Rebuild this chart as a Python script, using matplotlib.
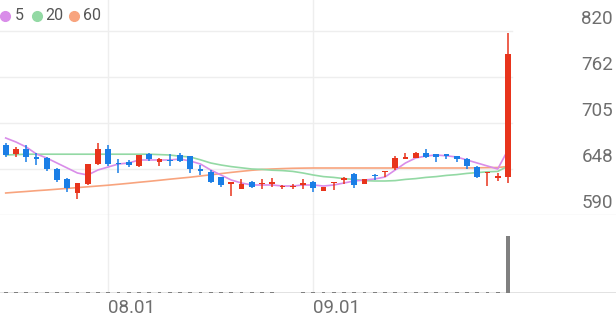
import numpy as np
import matplotlib
matplotlib.use("Agg")
import matplotlib.pyplot as plt
from matplotlib.transforms import blended_transform_factory

plt.rcParams['font.family'] = ['Roboto', 'DejaVu Sans']

# 일봉 데이터 (7/18 ~ 9/26)
opens = [677.5, 666, 672.5, 662.5, 661, 647.5, 635, 617.5, 628.75, 653.75,
         672.5, 655, 656, 651.25, 666, 656, 658.75, 665, 663.75, 647.5,
         643.75, 637.5, 628.75, 622.5, 631.25, 628.75, 628.75, 624.4, 624.4, 628.1,
         631.25, 620, 630, 633.75, 641.25, 628.75, 640, 643.75, 648.75, 660.6,
         661.25, 667.5, 666.25, 666.25, 663.75, 660, 650, 642.5, 636.25, 637.5]
closes = [665, 672.5, 662.5, 660, 647.5, 634, 624, 630, 653.75, 672.5,
          653.75, 653.75, 652.5, 665, 660, 660, 657.5, 657.5, 647.5, 645,
          631.25, 627.5, 631.25, 628.75, 625, 630, 631.25, 625, 625, 629.4,
          623.75, 625, 631.25, 636.25, 627.5, 635, 638.75, 645, 661.25, 661.9,
          667.5, 662.5, 662.5, 663.75, 660, 651.25, 637.5, 643.75, 638.75, 791.25]
highs = [680, 675, 677.5, 667.5, 662.5, 649, 636, 630, 654, 680,
         677.5, 660, 658.75, 665, 667.5, 661, 666, 667.5, 663.75, 652.5,
         646, 637.5, 631.25, 635, 632.5, 635, 636.25, 627.5, 628.75, 635,
         632.5, 625, 631.25, 637.5, 642.5, 635, 641.25, 645, 663.75, 667.5,
         668.75, 672.5, 666.25, 666.25, 663.75, 661.25, 651.25, 643.75, 642.5, 817.5]
lows = [662.5, 662.5, 656, 652.5, 645, 631, 619, 610, 628, 653,
        651, 642.5, 650, 650, 657.5, 651, 651, 656, 642.5, 640,
        630, 625, 613.75, 622.5, 623.75, 622.5, 625, 622.5, 622.5, 622.5,
        618.75, 620, 621.25, 628.75, 623.75, 628.75, 633.75, 637.5, 646.25, 660,
        661.25, 661.25, 656.25, 660, 656.25, 647.5, 636.25, 626.25, 632.5, 630]
volumes = [1.2, 1, 1.2, 1, 1.2, 1.8, 1.2, 1.5, 1.2, 2,
           1.2, 1, 1, 1.2, 1, 1, 1, 1, 1.2, 1,
           1, 1.2, 1.2, 1, 1, 1, 1, 0.8, 0.8, 1,
           1.2, 1, 1, 1, 1.2, 1, 1, 1, 1.5, 1,
           1, 1.2, 1, 1, 1, 1.2, 1.2, 1, 1, 100]

# 이동평균 (화면에서 읽은 값)
ma5 = [686.25, 681.25, 675, 666.25, 661.25, 655, 648.75, 642.5, 640, 646.25,
       650, 653.75, 655, 658.75, 658.75, 658.75, 658.75, 660, 657.5, 653.75,
       646.25, 640, 633.75, 630, 627.5, 627.5, 627.5, 626.25, 626.25, 627.5,
       627.5, 626.25, 627.5, 630, 632.5, 633.75, 635, 637.5, 646.25, 655,
       661.25, 663.75, 665, 664, 662.5, 658.75, 655, 651.25, 647.5, 671.25]
ma20 = [665, 665.5, 666, 666, 666, 666, 666, 666, 666, 666,
        666, 666, 666, 666, 666, 665.5, 665, 663.5, 662.5, 659,
        655, 652.5, 650.5, 649, 647.5, 647, 646, 645.5, 644.5, 642.5,
        640, 638, 637, 635.5, 634.5, 633, 632.5, 632.5, 633, 634.5,
        635.5, 637, 638, 639.5, 640.5, 642, 643, 644, 644.5, 651]
ma60 = [617.5, 618.5, 619.4, 620.4, 621.25, 622.25, 623.25, 624.25, 625.25, 626.25,
        627.25, 628.4, 629.6, 630.9, 632.1, 633.4, 634.75, 636, 637.25, 638.75,
        640.25, 641.75, 643.25, 644.6, 645.9, 646.9, 647.5, 648, 648.4, 648.6,
        648.75, 648.75, 648.75, 648.75, 648.75, 648.75, 648.75, 648.75, 648.75, 648.75,
        648.75, 648.75, 648.75, 648.75, 648.75, 648.75, 649, 649.2, 649.4, 650.6]

tick_idx = [10, 30]
tick_labels = ['08.01', '09.01']
price_ticks = [590, 647.5, 705, 762.5, 820]
price_labels = ['590', '648', '705', '762', '820']

RED = '#e8341c'
BLUE = '#1a7ee6'
GRID = '#eeeeee'
TXT = '#6e6e6e'


def main():
    n = len(opens)
    x = np.arange(n)
    o = np.array(opens)
    c = np.array(closes)
    up = c >= o
    colors = np.where(up, RED, BLUE)

    fig = plt.figure(figsize=(6.16, 3.21), dpi=100)
    ax = fig.add_axes([0, 106 / 321, 1, 215 / 321])
    axv = fig.add_axes([0, 28 / 321, 1, 78 / 321])

    xl = (-5.7 / 10.25, (616 - 5.7) / 10.25)
    for a in (ax, axv):
        a.set_xlim(*xl)
        a.axis('off')
        for t in tick_idx:
            a.axvline(t, color=GRID, lw=1, zorder=0)

    ax.set_ylim(590, 590 + 215 * 1.25)
    axv.set_ylim(0, 137)

    # 가로 그리드
    for p in price_ticks[1:]:
        ax.axhline(p, xmax=512 / 616, color=GRID, lw=1, zorder=0)
    ax.axhline(590, color='#e6e6e6', lw=1, zorder=0)
    axv.axhline(0, color='#dddddd', lw=1.2, zorder=0)

    # 캔들
    ax.vlines(x, lows, highs, colors=colors, lw=1.1, zorder=2)
    body = np.maximum(np.abs(c - o), 1.3)
    ax.bar(x, body, bottom=np.minimum(o, c), width=0.55, color=colors, zorder=3)

    # 이동평균선
    ax.plot(x, ma60, color='#f8a47e', lw=1.2, zorder=1)
    ax.plot(x, ma20, color='#93d9a4', lw=1.2, zorder=1)
    ax.plot(x, ma5, color='#d98de9', lw=1.2, zorder=1)

    # 거래량
    axv.bar(x, volumes, width=0.38, color='#808080', zorder=2)

    # 가격 라벨
    tr = blended_transform_factory(ax.transAxes, ax.transData)
    for p, lab in zip(price_ticks, price_labels):
        ax.text(613 / 616, p + 15.5, lab, transform=tr, ha='right', va='center',
                fontsize=13.5, color=TXT)

    # 날짜 라벨
    trv = blended_transform_factory(axv.transData, axv.transAxes)
    for t, lab in zip(tick_idx, tick_labels):
        axv.text(t - 0.05, -0.19, lab, transform=trv, ha='left', va='center',
                 fontsize=13.5, color=TXT)

    # 범례
    items = [('5', '#d98de9', 5, 14.5), ('20', '#93d9a4', 37, 45.5), ('60', '#f8a47e', 74, 82.5)]
    for lab, col, cx, tx in items:
        ax.plot(cx / 616, 1 - 15.7 / 215, 'o', ms=7, color=col, transform=ax.transAxes,
                clip_on=False)
        ax.text(tx / 616, 1 - 15.7 / 215, lab, transform=ax.transAxes, ha='left',
                va='center', fontsize=11.5, color='#555555')

    fig.savefig('out.png', dpi=100)


if __name__ == "__main__":
    main()
